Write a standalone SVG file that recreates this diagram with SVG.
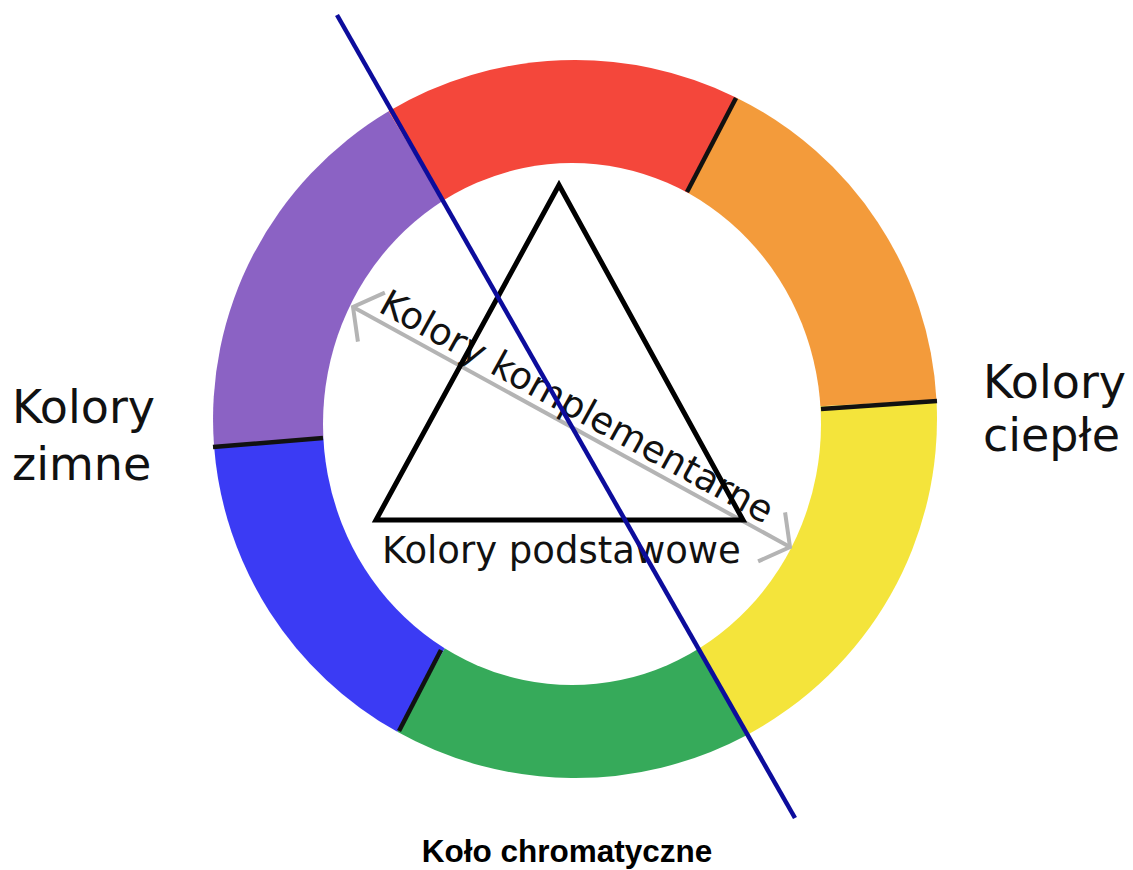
<svg xmlns="http://www.w3.org/2000/svg" width="1133" height="870" viewBox="0 0 1133 870">
<style>
  .seg { stroke: none; }
  .sep { stroke: #111; stroke-width: 4.5; stroke-linecap: butt; }
  .lbl { font-family: "DejaVu Sans", "Liberation Sans", sans-serif; fill: #111; }
  .tri { fill: none; stroke: #000; stroke-width: 5; stroke-linejoin: miter; }
  .arrow { fill: none; stroke: #b4b4b4; stroke-width: 4; }
  .axis { stroke: #0c0c9c; stroke-width: 4.5; }
  .title { font-family: "Liberation Sans", Arial, sans-serif; font-weight: bold; fill: #000; }
</style>
<defs>
  <marker id="chev" markerUnits="userSpaceOnUse" markerWidth="60" markerHeight="70" refX="0" refY="0" viewBox="-30 -35 60 70" orient="auto-start-reverse" overflow="visible">
    <path d="M-21,-28 L0,0 L-21,28" fill="none" stroke="#b4b4b4" stroke-width="4"/>
  </marker>
</defs>
<rect width="1133" height="870" fill="#fff"/>

<g id="wheel">
  <path id="seg-purple" class="seg" fill="#8b62c4" d="M575,419 L214.1,446.5 A362,359 0 0 1 388.6,111.3 Z"/>
  <path id="seg-red" class="seg" fill="#f4473b" d="M575,419 L388.6,111.3 A362,359 0 0 1 736.5,97.7 Z"/>
  <path id="seg-orange" class="seg" fill="#f39b3b" d="M575,419 L736.5,97.7 A362,359 0 0 1 936.5,400.2 Z"/>
  <path id="seg-yellow" class="seg" fill="#f4e43b" d="M575,419 L936.5,400.2 A362,359 0 0 1 746.1,735.4 Z"/>
  <path id="seg-green" class="seg" fill="#36aa5a" d="M575,419 L746.1,735.4 A362,359 0 0 1 397.3,731.8 Z"/>
  <path id="seg-blue" class="seg" fill="#3b3bf4" d="M575,419 L397.3,731.8 A362,359 0 0 1 214.1,446.5 Z"/>
  <ellipse id="hole" cx="572" cy="424" rx="249" ry="261" fill="#fff"/>
  <line class="sep" x1="736" y1="98" x2="687" y2="192"/>
  <line class="sep" x1="937" y1="401" x2="821" y2="409"/>
  <line class="sep" x1="213" y1="447" x2="323" y2="438"/>
  <line class="sep" x1="399" y1="731" x2="441" y2="650"/>
</g>

<g id="connectors">
  <line id="complementary-arrow" class="arrow" x1="353" y1="307" x2="790" y2="547" marker-start="url(#chev)" marker-end="url(#chev)"/>
</g>

<g id="complementary-label">
  <text class="lbl" font-size="37" transform="translate(377,311) rotate(28.8)">Kolory komplementarne</text>
</g>

<g id="primary-triangle">
  <polygon class="tri" points="559,185 376,520 743,520"/>
  <text class="lbl" font-size="37" x="382" y="563">Kolory podstawowe</text>
</g>

<g id="cold-label">
  <text class="lbl" font-size="46" x="12" y="423">Kolory</text>
  <text class="lbl" font-size="46" x="12" y="480">zimne</text>
</g>

<g id="warm-label">
  <text class="lbl" font-size="46" x="983" y="398">Kolory</text>
  <text class="lbl" font-size="46" x="983" y="451">ciepłe</text>
</g>

<g id="divider">
  <line class="axis" x1="337" y1="15" x2="795" y2="818"/>
</g>

<g id="caption">
  <text class="title" font-size="31.5" x="567" y="862" text-anchor="middle">Koło chromatyczne</text>
</g>
</svg>
